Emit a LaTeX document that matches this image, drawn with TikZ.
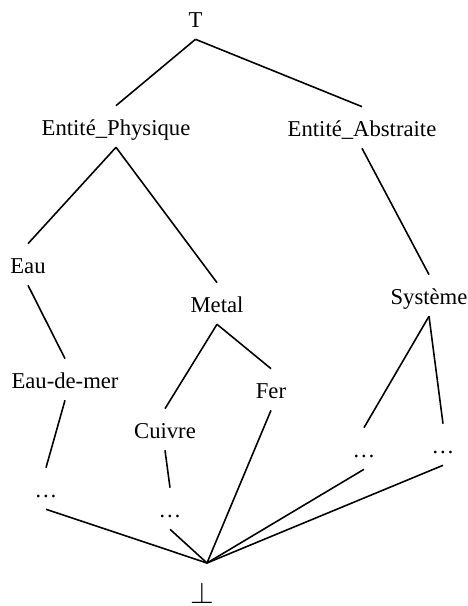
\documentclass[tikz,border=0pt]{standalone}
\usepackage{fontspec}
\setmainfont{Liberation Serif}
\usepackage{tikz}

\begin{document}
\begin{tikzpicture}[
  cls/.style={anchor=base,inner xsep=2pt,inner ysep=6.8pt,text height=9.7pt,text depth=0pt,font=\fontsize{12.9}{15}\selectfont},
  lnk/.style={line width=0.9pt}
]
\useasboundingbox (0,0) rectangle (9.34,-12.12);
\node[cls] (top) at (3.91,-0.54) {T};
\node[cls] (phys) at (2.32,-2.70) {Entité\_Physique};
\node[cls] (abst) at (7.24,-2.72) {Entité\_Abstraite};
\node[cls] (eau) at (0.56,-5.46) {Eau};
\node[cls] (metal) at (4.34,-6.24) {Metal};
\node[cls] (syst) at (8.58,-6.08) {Système};
\node[cls] (mer) at (1.30,-7.76) {Eau-de-mer};
\node[cls] (fer) at (5.42,-7.96) {Fer};
\node[cls] (cuivre) at (3.30,-8.76) {Cuivre};
\node[cls] (d1) at (0.92,-9.94) {…};
\node[cls] (d2) at (3.40,-10.34) {…};
\node[cls] (d3) at (7.28,-9.14) {…};
\node[cls] (d4) at (8.86,-9.06) {…};
\node[cls,text height=15.9pt,font=\fontsize{17}{17}\selectfont] (bot) at (4.05,-12.06) {$\bot$};

\draw[lnk] (top.south) -- (phys.north);
\draw[lnk] (top.south) -- (abst.north);
\draw[lnk] (phys.south) -- (eau.north);
\draw[lnk] (phys.south) -- (metal.north);
\draw[lnk] (abst.south) -- (syst.north);
\draw[lnk] (eau.south) -- (mer.north);
\draw[lnk] (metal.south) -- (cuivre.north);
\draw[lnk] (metal.south) -- (fer.north);
\draw[lnk] (syst.south) -- (d3.north);
\draw[lnk] (syst.south) -- (d4.north);
\draw[lnk] (mer.south) -- (d1.north);
\draw[lnk] (cuivre.south) -- (d2.north);
% everything meets at the bottom
\coordinate (meet) at (4.14,-11.26);
\foreach \n in {d1,d2,fer,d3,d4}
  \draw[lnk] (\n.south) -- (meet);
\end{tikzpicture}
\end{document}
